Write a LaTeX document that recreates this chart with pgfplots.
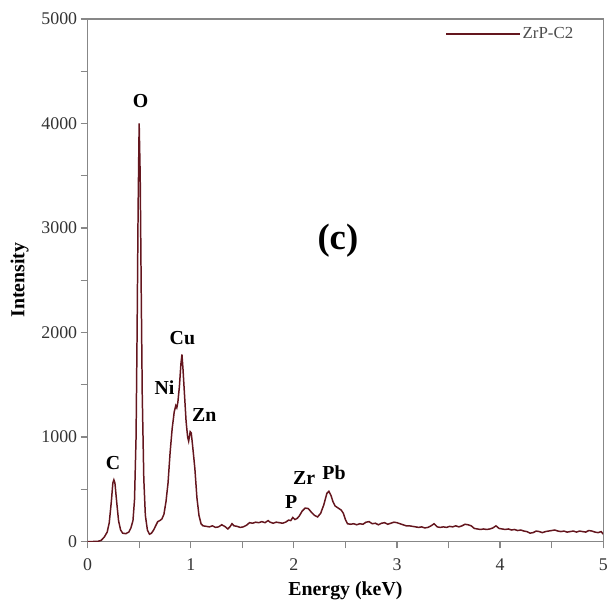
\documentclass[border=0pt]{standalone}
\usepackage{fontspec}
\setmainfont{Liberation Serif}
\usepackage{pgfplots}
\pgfplotsset{compat=1.18}
\definecolor{spec}{RGB}{100,22,30}
\definecolor{axgray}{RGB}{135,135,135}
\begin{document}
\begin{tikzpicture}
\begin{axis}[
  name=ax,
  scale only axis,
  width=518bp, height=525bp,
  xmin=0, xmax=5, ymin=0, ymax=5000,
  xtick={0,1,2,3,4,5},
  minor xtick={0.5,1.5,2.5,3.5,4.5},
  ytick={0,1000,2000,3000,4000,5000},
  minor ytick={500,1500,2500,3500,4500},
  tick align=outside,
  xtick pos=bottom, ytick pos=left,
  major tick length=7bp, minor tick length=7bp,
  every tick/.style={axgray, line width=1.3bp},
  every minor tick/.style={axgray, line width=1.3bp},
  axis line style={axgray, line width=1.3bp},
  /pgf/number format/assume math mode=true,
  /pgf/number format/1000 sep={},
  tick label style={font=\fontsize{18}{20}\selectfont, text=black!80},
  xticklabel style={yshift=-7bp},
  xlabel={\bfseries Energy (keV)},
  ylabel={\bfseries Intensity},
  label style={font=\fontsize{20}{22}\selectfont},
  xlabel style={yshift=-4bp},
  ylabel style={yshift=6bp},
  legend style={draw=none, fill=none, at={(0.688,0.971)}, anchor=west,
    font=\fontsize{17}{19}\selectfont, text=black!70},
  legend image code/.code={\draw[#1] (0bp,0bp) -- (74bp,0bp);},
]
\addplot[spec, line width=1.5bp] coordinates {
(0.00,0) (0.05,0) (0.10,2) (0.13,10) (0.16,40) (0.19,90) (0.21,180) (0.23,380)
(0.245,560) (0.255,590) (0.265,560) (0.28,400) (0.30,200) (0.32,110) (0.34,80)
(0.37,75) (0.40,90) (0.42,130) (0.44,200) (0.455,400) (0.47,1000) (0.48,2000)
(0.49,3200) (0.50,4000) (0.51,3500) (0.52,2400) (0.53,1400) (0.545,600) (0.56,250)
(0.58,110) (0.60,70) (0.62,80) (0.64,110) (0.66,150) (0.68,190) (0.70,200) (0.72,215)
(0.74,260) (0.76,380) (0.78,560) (0.80,850) (0.82,1080) (0.84,1240) (0.855,1300)
(0.865,1280) (0.875,1330) (0.89,1480) (0.905,1700) (0.915,1790) (0.925,1650)
(0.94,1400) (0.955,1150) (0.97,1000) (0.98,960) (0.995,1050) (1.005,1040) (1.02,900)
(1.04,700) (1.06,420) (1.08,250) (1.10,170) (1.12,150) (1.15,145) (1.18,140)
(1.21,150) (1.24,135) (1.27,140) (1.30,160) (1.33,145) (1.36,120) (1.38,140)
(1.40,170) (1.42,150) (1.45,145) (1.48,135) (1.51,140) (1.54,155) (1.57,180)
(1.60,175) (1.63,185) (1.66,180) (1.69,190) (1.72,180) (1.75,200) (1.77,185)
(1.80,175) (1.83,185) (1.86,180) (1.89,175) (1.92,185) (1.95,205) (1.97,200)
(1.99,230) (2.01,210) (2.03,220) (2.05,240) (2.08,290) (2.11,320) (2.14,315)
(2.17,280) (2.20,250) (2.23,235) (2.26,270) (2.29,350) (2.32,460) (2.34,480)
(2.36,440) (2.38,380) (2.40,340) (2.43,320) (2.46,300) (2.48,270) (2.50,210)
(2.52,170) (2.55,165) (2.58,170) (2.61,160) (2.64,170) (2.67,165) (2.70,185)
(2.73,190) (2.76,170) (2.79,175) (2.82,160) (2.85,175) (2.88,180) (2.91,165)
(2.94,175) (2.97,185) (3.00,180) (3.03,170) (3.06,160) (3.09,150) (3.12,150)
(3.15,145) (3.18,140) (3.21,135) (3.24,140) (3.27,130) (3.30,135) (3.33,150)
(3.36,170) (3.39,140) (3.42,135) (3.45,140) (3.48,135) (3.51,145) (3.54,140)
(3.57,150) (3.60,140) (3.63,150) (3.66,165) (3.69,160) (3.72,150) (3.75,125)
(3.78,120) (3.81,115) (3.84,120) (3.87,115) (3.90,120) (3.93,130) (3.96,150)
(3.99,125) (4.02,120) (4.05,115) (4.08,120) (4.11,110) (4.14,115) (4.17,105)
(4.20,110) (4.23,100) (4.26,95) (4.29,80) (4.32,85) (4.35,100) (4.38,95)
(4.41,85) (4.44,95) (4.47,100) (4.50,105) (4.53,110) (4.56,100) (4.59,95)
(4.62,100) (4.65,90) (4.68,95) (4.71,100) (4.74,90) (4.77,100) (4.80,95)
(4.83,90) (4.86,105) (4.89,100) (4.92,90) (4.95,85) (4.98,95) (5.00,70)
};
\addlegendentry{ZrP-C2}
\begin{scope}[font=\bfseries\fontsize{20}{22}\selectfont]
\node at (axis cs:0.513,4210) {O};
\node at (axis cs:0.919,1943) {Cu};
\node at (axis cs:0.745,1476) {Ni};
\node at (axis cs:1.131,1210) {Zn};
\node at (axis cs:0.247,752) {C};
\node at (axis cs:1.973,381) {P};
\node at (axis cs:2.099,610) {Zr};
\node at (axis cs:2.389,657) {Pb};
\end{scope}
\node[font=\bfseries\fontsize{37}{40}\selectfont] at (axis cs:2.427,2880) {(c)};
\end{axis}
\path (ax.south west) ++(-88bp,-65bp) -- (ax.north east) -- ++(5bp,19bp);
\end{tikzpicture}
\end{document}
